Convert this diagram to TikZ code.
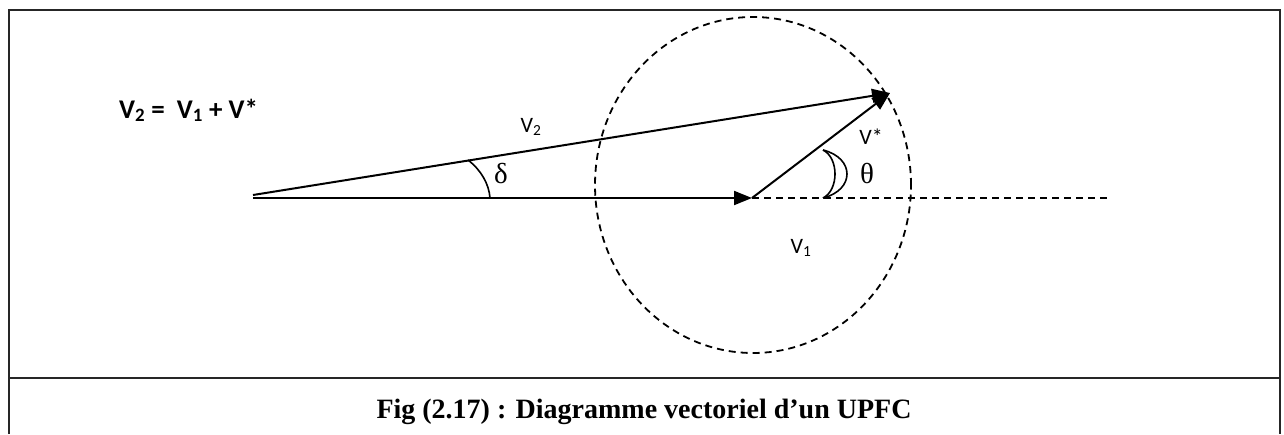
\documentclass[tikz,border=0pt]{standalone}
\usepackage{fontspec}
\setmainfont{Carlito}
\newfontfamily\serifgr{Liberation Serif}
\usetikzlibrary{arrows.meta}
\tikzset{
  vec/.style={line width=2pt, -{Triangle[length=18pt,width=14pt]}},
  frameline/.style={line width=2.2pt, black!85},
  dashedline/.style={line width=1.8pt, dash pattern=on 7pt off 5pt},
  lbl/.style={font=\fontsize{22}{26}\selectfont, inner sep=0pt},
  greek/.style={font=\serifgr\fontsize{29}{32}\selectfont, inner sep=0pt},
}
\begin{document}
\begin{tikzpicture}[x=1pt,y=-1pt]
\useasboundingbox (0,0) rectangle (1284,434);
% frame
\coordinate (F1) at (9,434);
\coordinate (F2) at (9,10);
\coordinate (F3) at (1280,10);
\coordinate (F4) at (1280,434);
\coordinate (S1) at (9,378);
\coordinate (S2) at (1280,378);
\draw[frameline] (F1) -- (F2) -- (F3) -- (F4);
\draw[frameline] (S1) -- (S2);
% points
\coordinate (O2) at (253,195);
\coordinate (O1) at (253,198);
\coordinate (A) at (752,198);
\coordinate (B) at (890,93);
\coordinate (E) at (1110,198);
\coordinate (C) at (753,185);
% circle
\draw[dashedline] (C) ellipse [x radius=158pt, y radius=168pt];
\draw[dashedline] (A) -- (E);
% vectors
\draw[vec] (O1) -- (A);
\draw[vec] (A) -- (B);
\draw[vec] (O2) -- (B);
% delta arc
\coordinate (D1) at (468,160);
\coordinate (D2) at (490,198);
\draw[line width=1.6pt] (D1) .. controls (481,170) and (489,184) .. (D2);
% theta crescent
\coordinate (T1) at (823,150);
\coordinate (T2) at (823,198);
\draw[line width=1.6pt] (T1) .. controls (855,158) and (855,190) .. (T2);
\draw[line width=1.6pt] (T1) .. controls (839,158) and (839,190) .. (T2);
% labels
\node[anchor=base west, inner sep=0pt, font=\bfseries\fontsize{27}{31}\selectfont] (eq) at (119,118)
  {V\textsubscript{2} =\hspace{0.45em}V\textsubscript{1} + V*};
\node[lbl] (l2) at (531,127) {V\textsubscript{2}};
\node[lbl] (ls) at (871,137) {V*};
\node[lbl] (l1) at (801,248) {V\textsubscript{1}};
\node[greek] (ld) at (501,174) {δ};
\node[greek] (lt) at (867,173) {θ};
\node[anchor=base, inner sep=0pt, font=\serifgr\bfseries\fontsize{28}{32}\selectfont] (cap) at (644,418)
  {Fig (2.17) : Diagramme vectoriel d’un UPFC};
\end{tikzpicture}
\end{document}
